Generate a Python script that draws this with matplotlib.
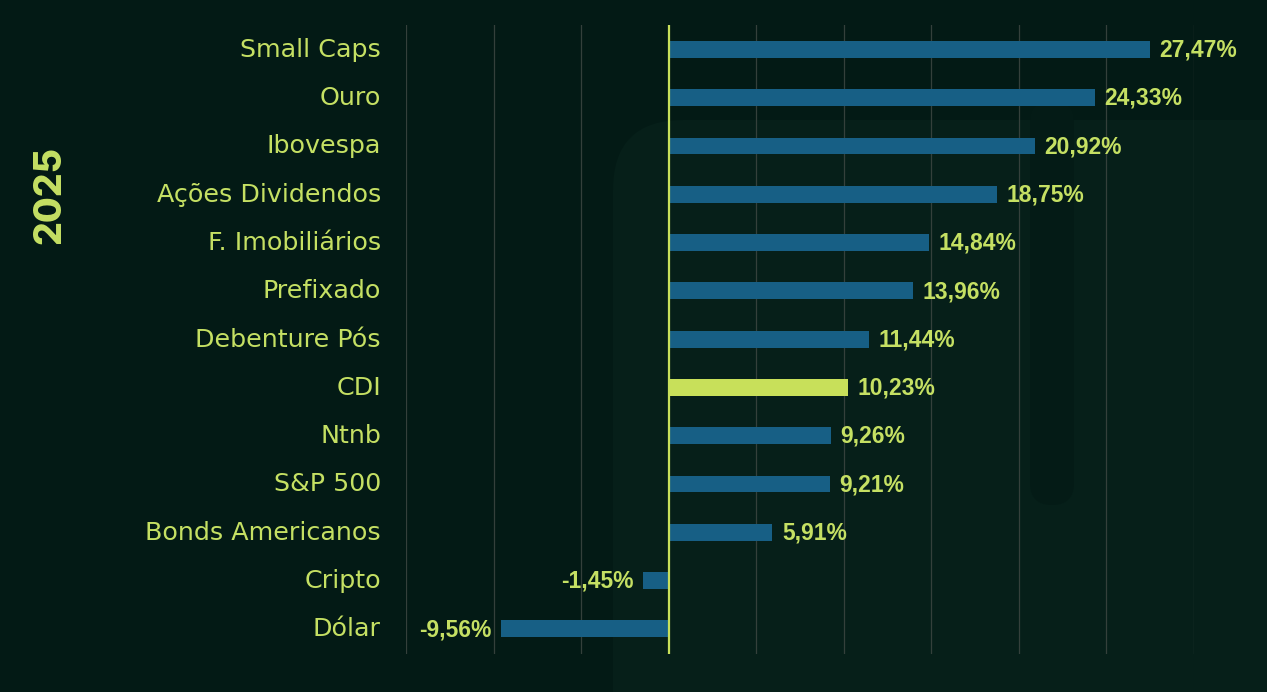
import matplotlib
matplotlib.use('Agg')
import matplotlib.pyplot as plt
from matplotlib import font_manager
from matplotlib.patches import FancyBboxPatch

# dados
categorias = ['Small Caps', 'Ouro', 'Ibovespa', 'Ações Dividendos', 'F. Imobiliários',
              'Prefixado', 'Debenture Pós', 'CDI', 'Ntnb', 'S&P 500',
              'Bonds Americanos', 'Cripto', 'Dólar']
retornos = [27.47, 24.33, 20.92, 18.75, 14.84, 13.96, 11.44, 10.23, 9.26, 9.21, 5.91, -1.45, -9.56]
destaque = 'CDI'
ano = '2025'

BG = '#031a15'
AZUL = '#175f85'
VERDE = '#c8e05a'
TEXTO = '#c5e063'
GRADE = '#34403b'

# fonte dos valores: Liberation Sans Bold (nao a Narrow)
fonte_valor = None
for f in font_manager.fontManager.ttflist:
    if f.name == 'Liberation Sans' and f.weight == 700 and f.style == 'normal' and 'Narrow' not in f.fname:
        fonte_valor = font_manager.FontProperties(fname=f.fname, size=16.5)
        break
if fonte_valor is None:
    fonte_valor = font_manager.FontProperties(family='DejaVu Sans', weight='bold', size=15)

fig = plt.figure(figsize=(12.67, 6.92), dpi=100, facecolor=BG)

# marca d'agua de fundo (bem sutil), em eixos de pixels
bg = fig.add_axes([0, 0, 1, 1], zorder=-1)
bg.set_xlim(0, 1267)
bg.set_ylim(692, 0)
bg.axis('off')
bg.add_patch(FancyBboxPatch((613, 120), 900, 700, boxstyle='round,pad=0,rounding_size=70',
                            facecolor='#061f19', edgecolor='none'))
bg.add_patch(FancyBboxPatch((1030, 100), 44, 405, boxstyle='round,pad=0,rounding_size=22',
                            facecolor='#041b16', edgecolor='none'))

ax = fig.add_axes([0.3204, 0.0549, 0.622, 0.909])
ax.set_facecolor('none')

pos = list(range(len(categorias)))
cores = [VERDE if c == destaque else AZUL for c in categorias]
ax.barh(pos, retornos, height=0.35, color=cores, zorder=3)

ax.set_xlim(-15, 30)
ax.set_ylim(12.52, -0.507)
for x in range(-15, 31, 5):
    if x != 0:
        ax.axvline(x, color=GRADE, lw=0.9, zorder=1)
ax.axvline(0, color=VERDE, lw=1.6, zorder=4)

ax.set_xticks([])
ax.set_yticks(pos)
ax.set_yticklabels([])
ax.tick_params(axis='y', length=0)
for s in ax.spines.values():
    s.set_visible(False)

# rotulos das categorias
for p, c in zip(pos, categorias):
    ax.annotate(c, (0, p), xycoords=('axes fraction', 'data'), xytext=(-18, 1.5),
                textcoords='offset points', ha='right', va='center_baseline',
                family='DejaVu Sans', fontsize=18.3, color=TEXTO, annotation_clip=False)

for p, v in zip(pos, retornos):
    txt = f'{v:.2f}%'.replace('.', ',')
    if v >= 0:
        ax.annotate(txt, (v, p), xytext=(7, -0.5), textcoords='offset points', ha='left', va='center',
                    fontproperties=fonte_valor, color=TEXTO, annotation_clip=False, zorder=5)
    else:
        ax.annotate(txt, (v, p), xytext=(-7, -0.5), textcoords='offset points', ha='right', va='center',
                    fontproperties=fonte_valor, color=TEXTO, annotation_clip=False, zorder=5)

fig.text(0.0395, 0.718, ano, rotation=90, ha='center', va='center', family='Inter',
         fontweight='heavy', fontsize=27, color=TEXTO)

fig.savefig('out.png', dpi=100, facecolor=BG)
